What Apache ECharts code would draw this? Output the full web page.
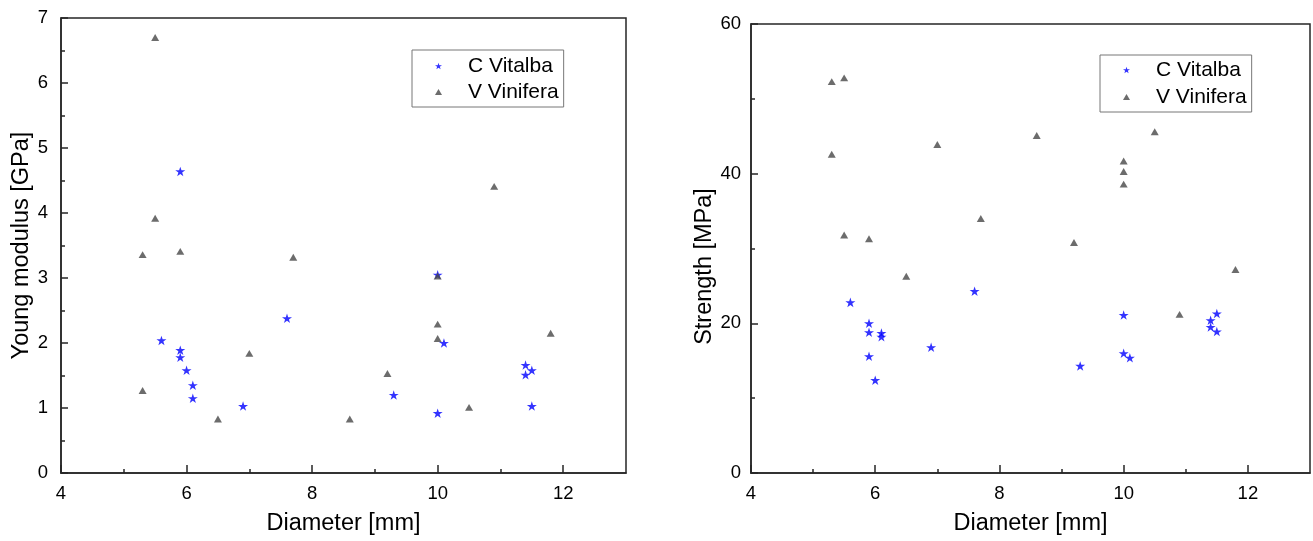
<!DOCTYPE html>
<html><head><meta charset="utf-8">
<script src="https://cdn.jsdelivr.net/npm/echarts@6/dist/echarts.min.js"></script>
<style>html,body{margin:0;padding:0;background:#fff}#c{width:1313px;height:541px}</style>
</head><body><div id="c"></div>
<script>
// ---- data ----
const cvDiameter = [5.6, 5.9, 5.9, 5.9, 6.0, 6.1, 6.1, 6.9, 7.6, 9.3, 10.0, 10.0, 10.1, 11.4, 11.4, 11.5, 11.5];
const cvModulus  = [2.04, 4.64, 1.89, 1.78, 1.58, 1.35, 1.15, 1.03, 2.38, 1.20, 0.92, 3.05, 2.00, 1.66, 1.51, 1.58, 1.03];
const cvStrength = [22.8, 20.0, 18.8, 15.6, 12.4, 18.7, 18.2, 16.8, 24.3, 14.3, 21.1, 16.0, 15.4, 20.4, 19.5, 21.3, 18.9];

const vvDiameter = [5.3, 5.3, 5.5, 5.5, 5.9, 6.5, 7.0, 7.7, 8.6, 9.2, 10.0, 10.0, 10.0, 10.5, 10.9, 11.8];
const vvModulus  = [3.36, 1.27, 6.70, 3.92, 3.41, 0.83, 1.84, 3.32, 0.83, 1.53, 3.03, 2.29, 2.07, 1.01, 4.41, 2.15];
const vvStrength = [52.3, 42.6, 52.8, 31.8, 31.3, 26.3, 43.9, 34.0, 45.1, 30.8, 41.7, 40.3, 38.6, 45.6, 21.2, 27.2];

const seriesNames = ['C Vitalba', 'V Vinifera'];
const xMajorTicks = [4, 6, 8, 10, 12];
const xMinorTicks = [5, 7, 9, 11];
const xTitle = 'Diameter [mm]';
const yTitles = ['Young modulus [GPa]', 'Strength [MPa]'];

// ---- chart ----
const FONT = "'Liberation Sans', Arial, sans-serif";
const AXIS = '#262626';
const STAR = 'path://M0,-10L2.245,-3.09L9.51,-3.09L3.63,1.18L5.88,8.09L0,3.82L-5.88,8.09L-3.63,1.18L-9.51,-3.09L-2.245,-3.09Z';
const TRI = 'path://M0,-10L10,7.3L-10,7.3Z';
const pair = (xs, ys) => xs.map((x, i) => [x, ys[i]]);

const chart = echarts.init(document.getElementById('c'), null, {renderer: 'canvas'});

function xMain(g) {
  return {
    type: 'value', gridIndex: g, position: 'bottom', min: 4, max: 13,
    name: xTitle, nameLocation: 'middle', nameGap: 39,
    nameTextStyle: {fontFamily: FONT, fontSize: 23.5, color: '#000'},
    axisLine: {show: true, onZero: false, lineStyle: {color: AXIS, width: 1.5}},
    axisTick: {show: true, inside: true, length: 8, customValues: xMajorTicks, lineStyle: {color: AXIS, width: 1.5}},
    axisLabel: {customValues: xMajorTicks, margin: 11, fontFamily: FONT, fontSize: 18.5, color: '#000'},
    splitLine: {show: false}
  };
}
function xMinor(g) {
  return {
    type: 'value', gridIndex: g, position: 'bottom', offset: 0, min: 4, max: 13,
    axisLine: {show: false},
    axisTick: {show: true, inside: true, length: 4, customValues: xMinorTicks, lineStyle: {color: AXIS, width: 1.5}},
    axisLabel: {show: false}, splitLine: {show: false}
  };
}
function yAxis(g, max, interval, name, gap, labelMargin, pad) {
  return {
    type: 'value', gridIndex: g, min: 0, max: max, interval: interval,
    name: name, nameLocation: 'middle', nameGap: gap,
    nameTextStyle: {fontFamily: FONT, fontSize: 23.5, color: '#000', padding: pad},
    axisLine: {show: true, onZero: false, lineStyle: {color: AXIS, width: 1.5}},
    axisTick: {show: true, inside: true, length: 7, lineStyle: {color: AXIS, width: 1.5}},
    minorTick: {show: true, splitNumber: 2, length: 4, lineStyle: {color: AXIS, width: 1.5}},
    axisLabel: {margin: labelMargin, fontFamily: FONT, fontSize: 18.5, color: '#000'},
    splitLine: {show: false}, minorSplitLine: {show: false}
  };
}
function legend(left, top, gap, padTop) {
  return {
    orient: 'vertical', left: left, top: top, data: seriesNames,
    itemWidth: 7, itemHeight: 7, itemGap: gap, symbolKeepAspect: true,
    padding: [padTop, 5, 4, 23],
    borderColor: '#777', borderWidth: 1, backgroundColor: '#fff',
    textStyle: {fontFamily: FONT, fontSize: 21, color: '#000', lineHeight: 22, padding: [0, 0, 0, 21]},
    selectedMode: false
  };
}
const cvStyle = {symbol: STAR, symbolSize: 10, symbolKeepAspect: true, itemStyle: {color: '#0000ff'}};
const vvStyle = {symbol: TRI, symbolSize: 8, symbolKeepAspect: true, itemStyle: {color: '#474747'}};

chart.setOption({
  animation: false,
  backgroundColor: '#fff',
  grid: [
    {left: 61, top: 18, width: 565, height: 456, show: true, borderColor: AXIS, borderWidth: 1.5, backgroundColor: 'transparent'},
    {left: 751, top: 24, width: 559, height: 450, show: true, borderColor: AXIS, borderWidth: 1.5, backgroundColor: 'transparent'}
  ],
  legend: [legend(412, 50, 4, 5), legend(1100, 55, 5, 4)],
  xAxis: [xMain(0), xMain(1), xMinor(0), xMinor(1)],
  yAxis: [
    yAxis(0, 7, 1, yTitles[0], 25, 13, [0, 0, 0, 0]),
    yAxis(1, 60, 20, yTitles[1], 27, 10, [0, 36, 0, 0])
  ],
  series: [
    Object.assign({type: 'scatter', name: seriesNames[0], xAxisIndex: 0, yAxisIndex: 0, data: pair(cvDiameter, cvModulus), z: 2}, cvStyle),
    Object.assign({type: 'scatter', name: seriesNames[1], xAxisIndex: 0, yAxisIndex: 0, data: pair(vvDiameter, vvModulus), z: 3}, vvStyle),
    Object.assign({type: 'scatter', name: seriesNames[0], xAxisIndex: 1, yAxisIndex: 1, data: pair(cvDiameter, cvStrength), z: 2}, cvStyle),
    Object.assign({type: 'scatter', name: seriesNames[1], xAxisIndex: 1, yAxisIndex: 1, data: pair(vvDiameter, vvStrength), z: 3}, vvStyle)
  ]
});
</script>
</body></html>
